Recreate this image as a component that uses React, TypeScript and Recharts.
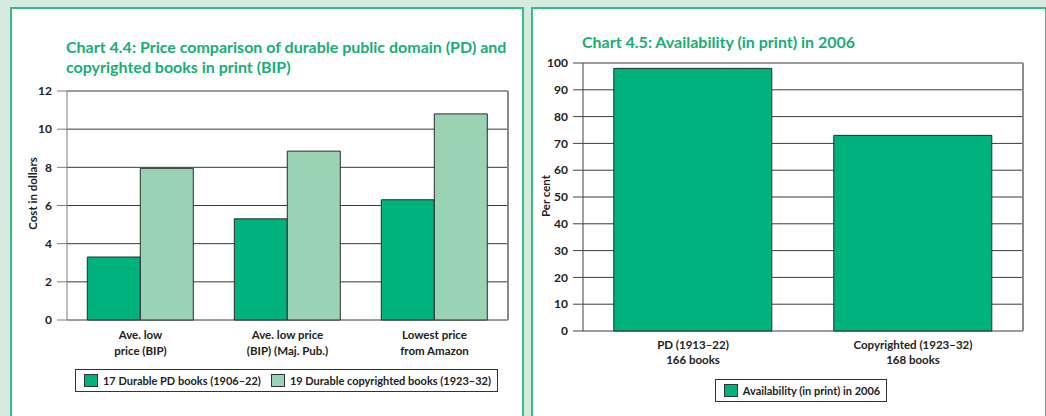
import React from 'react'
import { BarChart, Bar, XAxis, YAxis, CartesianGrid, Legend } from 'recharts'

// Chart 4.4 values
const priceCategories = ['Ave. low|price (BIP)', 'Ave. low price|(BIP) (Maj. Pub.)', 'Lowest price|from Amazon']
const pdPrices = [3.3, 5.3, 6.3]
const copyrightedPrices = [7.95, 8.85, 10.8]
const priceTicks = [0, 2, 4, 6, 8, 10, 12]
const priceEdges = [0, 1, 2, 3]

// Chart 4.5 values
const availCategories = ['PD (1913–22)|166 books', 'Copyrighted (1923–32)|168 books']
const availability = [98, 73]
const availTicks = [0, 10, 20, 30, 40, 50, 60, 70, 80, 90, 100]
const availEdges = [0, 1, 2]

const FONT = "Lato, 'DejaVu Sans', sans-serif"
const DARK = '#00b27b'
const LIGHT = '#99d3b3'
const TITLE = '#17ad78'
const TEXT = '#222'

const priceData = priceCategories.map((name, i) => ({
  name,
  pd: pdPrices[i],
  cr: copyrightedPrices[i],
}))

const availData = availCategories.map((name, i) => ({ name, avail: availability[i] }))

const makeTick = (dy1: number, dy2: number) => ({ x, y, payload }: any) => {
  const lines = String(payload.value).split('|')
  return (
    <text x={x} y={y} textAnchor="middle" fill={TEXT} fontFamily={FONT} fontSize={11.5} fontWeight={700}>
      {lines.map((l, i) => (
        <tspan key={i} x={x} dy={i === 0 ? dy1 : dy2}>
          {l}
        </tspan>
      ))}
    </text>
  )
}

const yLabel = (text: string, dx: number, dy: number) => ({ viewBox }: any) => {
  const cx = viewBox.x + dx
  const cy = viewBox.y + viewBox.height / 2 + dy
  return (
    <text
      x={cx}
      y={cy}
      transform={`rotate(-90 ${cx} ${cy})`}
      textAnchor="middle"
      dominantBaseline="central"
      fill={TEXT}
      fontFamily={FONT}
      fontSize={11.5}
      fontWeight={700}
    >
      {text}
    </text>
  )
}

const LegendBox = ({ payload }: any) => (
  <div style={{ display: 'flex', justifyContent: 'center' }}>
    <div
      style={{
        display: 'inline-flex',
        alignItems: 'center',
        border: '1px solid #333',
        padding: '4px 6px 4px 8px',
        gap: 10,
        background: '#fff',
        fontFamily: FONT,
        fontSize: 11,
        fontWeight: 700,
        color: TEXT,
        lineHeight: '13px',
      }}
    >
      {(payload || []).map((p: any, i: number) => (
        <span key={i} style={{ display: 'flex', alignItems: 'center' }}>
          <span
            style={{
              width: 14,
              height: 13,
              boxSizing: 'border-box',
              background: p.color,
              border: '1px solid #333',
              marginRight: 5,
            }}
          />
          <span>{p.value}</span>
        </span>
      ))}
    </div>
  </div>
)

const tickStyle = { fill: TEXT, fontFamily: FONT, fontSize: 12, fontWeight: 700 }

function PriceChart() {
  return (
    <BarChart
      width={520}
      height={416}
      data={priceData}
      margin={{ top: 91, right: 11, bottom: 24, left: 27 }}
      barCategoryGap="13.8%"
      barGap={0}
    >
      <CartesianGrid vertical={false} stroke="#3a3a3a" xAxisId="cat" yAxisId="l" />
      <XAxis
        xAxisId="edge"
        type="number"
        domain={[0, 3]}
        ticks={priceEdges}
        allowDataOverflow
        tick={false}
        tickSize={6}
        height={0}
        stroke="#7d7d7d"
      />
      <XAxis
        xAxisId="cat"
        dataKey="name"
        interval={0}
        axisLine={false}
        tickLine={false}
        tickSize={0}
        tickMargin={0}
        height={49}
        tick={makeTick(19, 16)}
      />
      <YAxis
        yAxisId="l"
        domain={[0, 12]}
        ticks={priceTicks}
        tickSize={10}
        tickMargin={5}
        width={40}
        stroke="#7d7d7d"
        tick={tickStyle}
        label={yLabel('Cost in dollars', 5, -12)}
      />
      <YAxis
        yAxisId="r"
        orientation="right"
        domain={[0, 12]}
        ticks={priceTicks}
        tick={false}
        tickLine={false}
        width={1}
        stroke="#8a8a8a"
        strokeWidth={2}
      />
      <Bar xAxisId="cat" yAxisId="l" dataKey="pd" name="17 Durable PD books (1906–22)" fill={DARK} stroke="#2b2b2b" strokeWidth={1} isAnimationActive={false} />
      <Bar xAxisId="cat" yAxisId="l" dataKey="cr" name="19 Durable copyrighted books (1923–32)" fill={LIGHT} stroke="#2b2b2b" strokeWidth={1} isAnimationActive={false} />
      <Legend verticalAlign="bottom" content={<LegendBox />} wrapperStyle={{ left: 67, width: 439 }} />
    </BarChart>
  )
}

function AvailChart() {
  return (
    <BarChart
      width={515}
      height={416}
      data={availData}
      margin={{ top: 63, right: 22, bottom: 14, left: 12 }}
      barCategoryGap="14%"
    >
      <CartesianGrid vertical={false} stroke="#3a3a3a" xAxisId="cat" yAxisId="l" />
      <XAxis
        xAxisId="edge"
        type="number"
        domain={[0, 2]}
        ticks={availEdges}
        allowDataOverflow
        tick={false}
        tickSize={6}
        height={0}
        stroke="#555"
      />
      <XAxis
        xAxisId="cat"
        dataKey="name"
        interval={0}
        axisLine={false}
        tickLine={false}
        tickSize={0}
        tickMargin={0}
        height={48}
        tick={makeTick(18, 15)}
      />
      <YAxis
        yAxisId="l"
        domain={[0, 100]}
        ticks={availTicks}
        tickSize={10}
        tickMargin={5}
        width={40}
        stroke="#444"
        tick={tickStyle}
        label={yLabel('Per cent', 2, -1)}
      />
      <YAxis
        yAxisId="r"
        orientation="right"
        domain={[0, 100]}
        ticks={availTicks}
        tick={false}
        tickLine={false}
        width={1}
        stroke="#8a8a8a"
        strokeWidth={2}
      />
      <Bar xAxisId="cat" yAxisId="l" dataKey="avail" name="Availability (in print) in 2006" fill={DARK} stroke="#2b2b2b" strokeWidth={1} isAnimationActive={false} />
      <Legend verticalAlign="bottom" content={<LegendBox />} wrapperStyle={{ left: 52, width: 436 }} />
    </BarChart>
  )
}

export default function App() {
  const panel = {
    position: 'absolute' as const,
    top: 7,
    height: 420,
    boxSizing: 'border-box' as const,
    border: '2px solid #33bd87',
    background: '#fff',
  }
  const title = {
    position: 'absolute' as const,
    fontFamily: FONT,
    fontSize: 16,
    fontWeight: 700,
    color: TITLE,
    lineHeight: '20px',
    whiteSpace: 'nowrap' as const,
  }
  return (
    <div
      style={{
        position: 'absolute',
        left: 0,
        top: 0,
        width: 1046,
        height: 416,
        overflow: 'hidden',
        background: '#d5ebdf',
      }}
    >
      <div style={{ ...panel, left: 10, width: 514 }} />
      <div style={{ ...panel, left: 531, width: 516 }} />
      <div style={{ ...title, left: 66, top: 37 }}>
        Chart 4.4: Price comparison of durable public domain (PD) and
        <br />
        copyrighted books in print (BIP)
      </div>
      <div style={{ ...title, left: 582, top: 32 }}>Chart 4.5: Availability (in print) in 2006</div>
      <div style={{ position: 'absolute', left: 0, top: 0 }}>
        <PriceChart />
      </div>
      <div style={{ position: 'absolute', left: 531, top: 0 }}>
        <AvailChart />
      </div>
    </div>
  )
}
